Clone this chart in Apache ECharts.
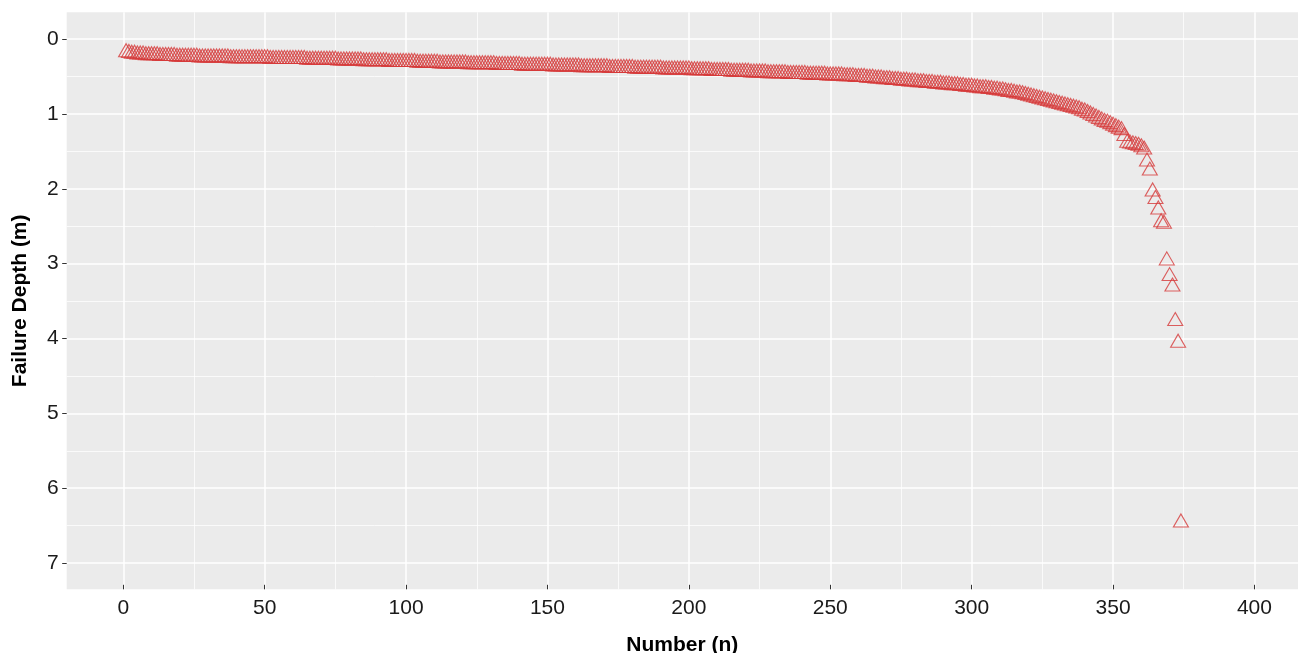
<!DOCTYPE html>
<html>
<head>
<meta charset="utf-8">
<script src="https://cdn.jsdelivr.net/npm/echarts@6/dist/echarts.min.js"></script>
<style>
html, body { margin: 0; padding: 0; background: #fff; }
#chart { width: 1298px; height: 653px; }
</style>
</head>
<body>
<div id="chart"></div>
<script>
// failure depth (m), sorted, one value per sample n = 1..374
var depth = [
  0.15,0.16,0.17,0.17,0.18,0.18,0.18,0.19,0.19,0.19,
  0.19,0.19,0.20,0.20,0.20,0.20,0.20,0.20,0.21,0.21,
  0.21,0.21,0.21,0.21,0.21,0.21,0.22,0.22,0.22,0.22,
  0.22,0.22,0.22,0.22,0.22,0.22,0.22,0.23,0.23,0.23,
  0.23,0.23,0.23,0.23,0.23,0.23,0.23,0.23,0.23,0.23,
  0.23,0.24,0.24,0.24,0.24,0.24,0.24,0.24,0.24,0.24,
  0.24,0.24,0.24,0.24,0.25,0.25,0.25,0.25,0.25,0.25,
  0.25,0.25,0.25,0.25,0.25,0.26,0.26,0.26,0.26,0.26,
  0.26,0.26,0.26,0.26,0.27,0.27,0.27,0.27,0.27,0.27,
  0.27,0.27,0.27,0.28,0.28,0.28,0.28,0.28,0.28,0.28,
  0.28,0.28,0.28,0.29,0.29,0.29,0.29,0.29,0.29,0.29,
  0.29,0.30,0.30,0.30,0.30,0.30,0.30,0.30,0.30,0.30,
  0.30,0.31,0.31,0.31,0.31,0.31,0.31,0.31,0.31,0.31,
  0.31,0.32,0.32,0.32,0.32,0.32,0.32,0.32,0.32,0.32,
  0.33,0.33,0.33,0.33,0.33,0.33,0.33,0.33,0.33,0.33,
  0.33,0.34,0.34,0.34,0.34,0.34,0.34,0.34,0.34,0.34,
  0.34,0.35,0.35,0.35,0.35,0.35,0.35,0.35,0.35,0.35,
  0.35,0.36,0.36,0.36,0.36,0.36,0.36,0.36,0.36,0.36,
  0.37,0.37,0.37,0.37,0.37,0.37,0.37,0.37,0.37,0.37,
  0.38,0.38,0.38,0.38,0.38,0.38,0.38,0.38,0.38,0.38,
  0.39,0.39,0.39,0.39,0.39,0.39,0.39,0.40,0.40,0.40,
  0.40,0.40,0.40,0.40,0.41,0.41,0.41,0.41,0.41,0.41,
  0.41,0.42,0.42,0.42,0.42,0.42,0.42,0.43,0.43,0.43,
  0.43,0.43,0.43,0.43,0.44,0.44,0.44,0.44,0.44,0.44,
  0.44,0.45,0.45,0.45,0.45,0.45,0.45,0.45,0.46,0.46,
  0.46,0.46,0.46,0.46,0.47,0.47,0.47,0.47,0.48,0.48,
  0.48,0.48,0.49,0.49,0.49,0.50,0.50,0.50,0.51,0.51,
  0.51,0.52,0.52,0.52,0.53,0.53,0.53,0.54,0.54,0.54,
  0.55,0.55,0.55,0.56,0.56,0.56,0.57,0.57,0.57,0.58,
  0.58,0.58,0.59,0.59,0.59,0.60,0.60,0.61,0.61,0.61,
  0.62,0.62,0.63,0.63,0.63,0.64,0.64,0.65,0.65,0.66,
  0.66,0.67,0.68,0.68,0.69,0.70,0.70,0.71,0.72,0.73,
  0.74,0.75,0.76,0.77,0.78,0.79,0.80,0.81,0.82,0.83,
  0.84,0.85,0.86,0.87,0.88,0.89,0.90,0.91,0.93,0.94,
  0.96,0.98,1.00,1.02,1.04,1.06,1.08,1.09,1.11,1.13,
  1.15,1.17,1.19,1.27,1.36,1.37,1.38,1.39,1.40,1.42,
  1.45,1.61,1.73,2.01,2.11,2.25,2.42,2.44,2.93,3.14,
  3.28,3.74,4.03,6.43
];
var xTicks = [0, 50, 100, 150, 200, 250, 300, 350, 400];
var yTicks = [0, 1, 2, 3, 4, 5, 6, 7];

var points = depth.map(function (d, i) { return [i + 1, d]; });

var chart = echarts.init(document.getElementById('chart'));

var tickLabel = { fontFamily: 'Liberation Sans, Arial, sans-serif', fontSize: 21, color: '#1a1a1a' };
var titleText = { fontFamily: 'Liberation Sans, Arial, sans-serif', fontSize: 21, fontWeight: 'bold', color: '#000' };

var option = {
    animation: false,
    backgroundColor: '#fff',
    grid: {
        left: 66.7, right: 0, top: 12.3, bottom: 63.7,
        outerBoundsMode: 'none',
        containLabel: false,
        show: true, backgroundColor: '#EBEBEB', borderWidth: 0
    },
    xAxis: {
        type: 'value',
        position: 'bottom',
        min: -20, max: 415.4,
        splitNumber: 8,
        name: 'Number (n)',
        nameLocation: 'middle',
        nameGap: 45,
        nameTextStyle: titleText,
        axisLine: { show: false, onZero: false },
        // the reversed y axis flips the tick direction, so inside points them down here
        axisTick: { show: true, inside: true, length: 4.5, lineStyle: { color: '#333', width: 1 }, customValues: xTicks },
        axisLabel: Object.assign({ margin: 8, customValues: xTicks }, tickLabel),
        splitLine: { show: true, lineStyle: { color: '#fff', width: 1.5 } },
        minorTick: { show: false, splitNumber: 2 },
        minorSplitLine: { show: true, lineStyle: { color: '#fff', width: 0.75 } }
    },
    yAxis: {
        type: 'value',
        position: 'left',
        inverse: true,
        min: -0.357, max: 7.35,
        splitNumber: 7,
        name: 'Failure Depth (m)',
        nameLocation: 'middle',
        nameRotate: 90,
        nameGap: 36,
        nameTextStyle: titleText,
        axisLine: { show: false, onZero: false },
        axisTick: { show: true, length: 4.5, lineStyle: { color: '#333', width: 1 }, customValues: yTicks },
        axisLabel: Object.assign({ margin: 8, customValues: yTicks }, tickLabel),
        splitLine: { show: true, lineStyle: { color: '#fff', width: 1.5 } },
        minorTick: { show: false, splitNumber: 2 },
        minorSplitLine: { show: true, lineStyle: { color: '#fff', width: 0.75 } }
    },
    series: [{
        type: 'scatter',
        data: points,
        symbol: 'triangle',
        symbolSize: [15, 13],
        itemStyle: { color: 'rgba(0,0,0,0)', borderColor: '#D63A3A', borderWidth: 1.1 }
    }]
};
chart.setOption(option);
</script>
</body>
</html>
